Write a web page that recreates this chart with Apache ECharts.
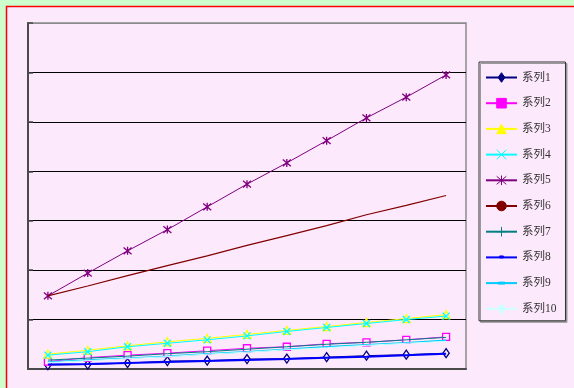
<!DOCTYPE html>
<html>
<head>
<meta charset="utf-8">
<script src="https://cdn.jsdelivr.net/npm/echarts@6/dist/echarts.min.js"></script>
<style>
  html, body { margin: 0; padding: 0; background: #ccffcc; }
  #chart { width: 574px; height: 388px; }
</style>
</head>
<body>
<div id="chart"></div>
<script>
// Category positions along the x axis (no labels are shown)
const categories = ['1', '2', '3', '4', '5', '6', '7', '8', '9', '10', '11'];

const seriesNames = ['系列1', '系列2', '系列3', '系列4', '系列5', '系列6', '系列7', '系列8', '系列9', '系列10'];

const s1 = [0.08, 0.09, 0.12, 0.16, 0.17, 0.20, 0.21, 0.24, 0.27, 0.29, 0.32];
const s2 = [0.15, 0.23, 0.28, 0.32, 0.37, 0.42, 0.45, 0.51, 0.54, 0.59, 0.65];
const s3 = [0.30, 0.38, 0.47, 0.55, 0.62, 0.70, 0.78, 0.86, 0.94, 1.02, 1.10];
const s4 = [0.28, 0.35, 0.45, 0.52, 0.59, 0.67, 0.76, 0.84, 0.92, 1.00, 1.07];
const s5 = [1.48, 1.94, 2.39, 2.82, 3.28, 3.74, 4.17, 4.62, 5.08, 5.50, 5.95];
const s6 = [1.48, 1.68, 1.89, 2.09, 2.29, 2.50, 2.70, 2.90, 3.12, 3.31, 3.51];
const s7 = [0.18, 0.22, 0.26, 0.31, 0.35, 0.40, 0.45, 0.50, 0.54, 0.59, 0.64];
const s8 = [0.09, 0.10, 0.12, 0.14, 0.16, 0.18, 0.20, 0.23, 0.25, 0.28, 0.31];
const s9 = [0.14, 0.18, 0.22, 0.26, 0.31, 0.35, 0.40, 0.45, 0.49, 0.53, 0.58];
const s10 = [0.13, 0.17, 0.21, 0.25, 0.30, 0.34, 0.39, 0.43, 0.48, 0.52, 0.56];

const yMin = 0, yMax = 7, yStep = 1;

const BG = '#fde9fc';
const colors = ['#000080', '#ff00ff', '#ffff00', '#00ffff', '#800080',
                '#800000', '#008080', '#0000ff', '#00ccff', '#ccffff'];

// Marker shapes (the leading moves pad the bounding box so small marks keep their size)
const SYM_DIAMOND = 'path://M0,0M10,10M5,0L8.5,5L5,10L1.5,5Z';
const SYM_X = 'path://M0,0L10,10M10,0L0,10';
const SYM_STAR = 'path://M0,0L10,10M10,0L0,10M5,-1L5,11';
const SYM_PLUS = 'path://M5,0L5,10M0,5L10,5';
const SYM_DASH_S = 'path://M0,0M10,10M3,3.5L7,3.5L7,5.5L3,5.5Z';
const SYM_DASH_L = 'path://M0,0M10,10M1.5,4L8.5,4L8.5,6L1.5,6Z';

const values = [s1, s2, s3, s4, s5, s6, s7, s8, s9, s10];

const styles = [
  { symbol: SYM_DIAMOND, size: [9, 9], hollow: true, show: true, lw: 1 },
  { symbol: 'rect', size: 7, hollow: true, show: true, lw: 1 },
  { symbol: 'triangle', size: 8, hollow: true, show: true, lw: 1 },
  { symbol: SYM_X, size: 7, hollow: false, show: true, lw: 1 },
  { symbol: SYM_STAR, size: 8, hollow: false, show: true, lw: 1 },
  { symbol: 'circle', size: 7, hollow: false, show: false, lw: 1.2 },
  { symbol: SYM_PLUS, size: 8, hollow: false, show: false, lw: 1 },
  { symbol: SYM_DASH_S, size: 10, hollow: false, show: false, lw: 2 },
  { symbol: SYM_DASH_L, size: 10, hollow: false, show: false, lw: 1.5 },
  { symbol: SYM_DIAMOND, size: 9, hollow: false, show: false, lw: 1 }
];

const series = seriesNames.map((name, i) => {
  const st = styles[i];
  const c = colors[i];
  return {
    name: name,
    type: 'line',
    data: values[i],
    symbol: st.symbol,
    symbolSize: st.size,
    showSymbol: st.show,
    symbolKeepAspect: false,
    animation: false,
    z: 2 + i,
    lineStyle: { color: c, width: st.lw },
    itemStyle: st.hollow
      ? { color: BG, borderColor: c, borderWidth: 1.3 }
      : { color: c, borderColor: c, borderWidth: 1.3 }
  };
});

const legendData = seriesNames.map((name, i) => ({
  name: name,
  itemStyle: { color: colors[i], borderColor: colors[i], borderWidth: 1 }
}));

const chart = echarts.init(document.getElementById('chart'), null, { renderer: 'canvas' });

const gridLineColors = [];
for (let v = yMin; v <= yMax; v += yStep) {
  gridLineColors.push(v === yMax ? '#8a8a8a' : '#000000');
}

chart.setOption({
  animation: false,
  backgroundColor: '#ccffcc',
  graphic: [{
    type: 'rect',
    z: -10,
    shape: { x: 6.5, y: 6.5, width: 620, height: 420 },
    style: { fill: BG, stroke: '#ff0000', lineWidth: 1.5 },
    silent: true
  }],
  grid: {
    left: 28, top: 23, right: 108, bottom: 19,
    show: true,
    backgroundColor: BG,
    borderColor: '#8a8a8a',
    borderWidth: 1.5
  },
  legend: {
    orient: 'vertical',
    left: 479, top: 62,
    padding: [9.5, 9, 6, 6],
    itemWidth: 31,
    itemHeight: 12,
    itemGap: 13.7,
    backgroundColor: BG,
    borderColor: '#333333',
    borderWidth: 1,
    shadowColor: '#999999',
    shadowOffsetX: 1.5,
    shadowOffsetY: 1.5,
    shadowBlur: 0,
    selectedMode: false,
    textStyle: {
      fontFamily: '"Liberation Serif", "Noto Sans CJK SC", serif',
      fontSize: 11.5,
      color: '#333333',
      lineHeight: 12
    },
    data: legendData
  },
  xAxis: {
    type: 'category',
    data: categories,
    boundaryGap: true,
    axisLine: { lineStyle: { color: '#4a4a4a', width: 2 } },
    axisTick: { inside: true, length: 6, lineStyle: { color: '#4a4a4a', width: 1 } },
    axisLabel: { show: false },
    splitLine: { show: false }
  },
  yAxis: {
    type: 'value',
    min: yMin, max: yMax, interval: yStep,
    axisLine: { show: true, lineStyle: { color: '#4a4a4a', width: 2 } },
    axisTick: { show: true, inside: true, length: 5, lineStyle: { color: '#4a4a4a', width: 1.5 } },
    axisLabel: { show: false },
    splitLine: { show: true, lineStyle: { color: gridLineColors, width: 1 } }
  },
  series: series
});
</script>
</body>
</html>
